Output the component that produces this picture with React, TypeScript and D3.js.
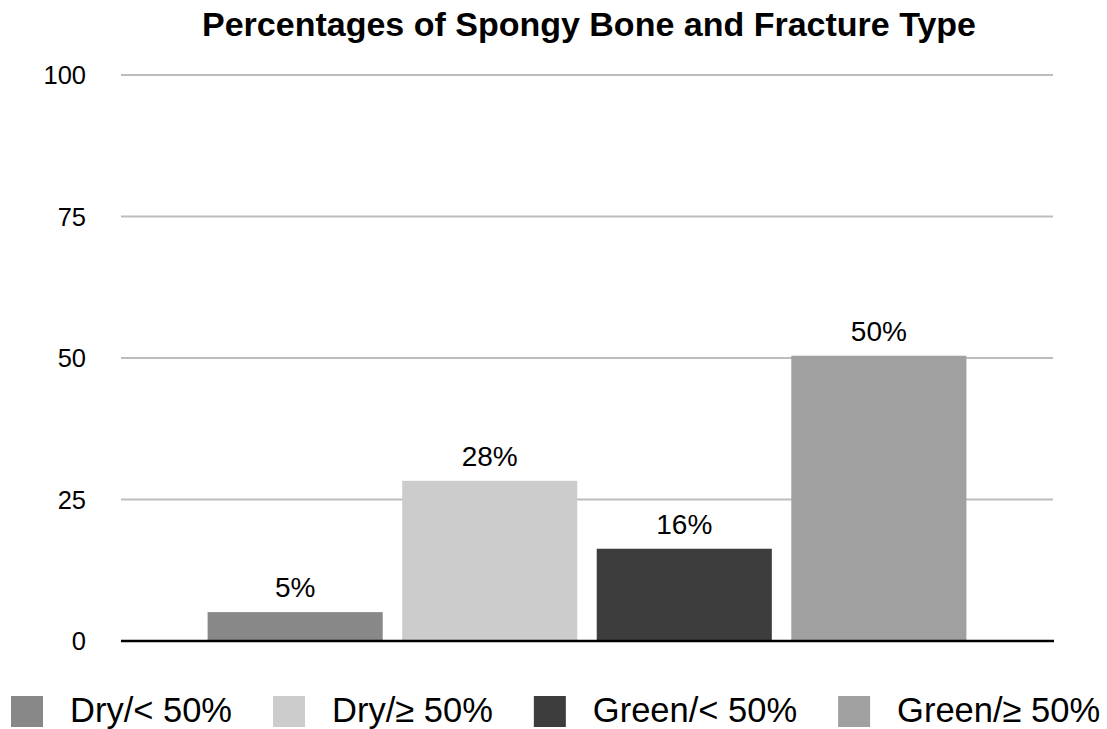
import React, { useEffect, useRef } from "react";
import * as d3 from "d3";

const categories = ["Dry/< 50%", "Dry/≥ 50%", "Green/< 50%", "Green/≥ 50%"];
const values = [5.1, 28.3, 16.3, 50.4];
const colors = ["#878887", "#cbcccb", "#3c3d3c", "#9fa09f"];
const yTicks = [0, 25, 50, 75, 100];
const title = "Percentages of Spongy Bone and Fracture Type";

const W = 1107;
const H = 729;
const FONT = "'Liberation Sans', Arial, Helvetica, sans-serif";

export default function App() {
  const ref = useRef<SVGSVGElement>(null);

  useEffect(() => {
    const svg = d3.select(ref.current);
    svg.selectAll("*").remove();

    const left = 121;
    const right = 1053;
    const top = 75;
    const bottom = 641;

    const x = d3
      .scaleBand<string>()
      .domain(categories)
      .range([122, 1052])
      .paddingInner(0.1)
      .paddingOuter(0.44);
    const y = d3.scaleLinear().domain([0, 100]).range([bottom, top]);

    // title
    svg
      .append("text")
      .attr("x", 589)
      .attr("y", 36)
      .attr("text-anchor", "middle")
      .attr("font-family", FONT)
      .attr("font-weight", "bold")
      .attr("font-size", 34)
      .attr("fill", "#000")
      .text(title);

    // gridlines
    svg
      .append("g")
      .selectAll("line")
      .data(yTicks.filter((t) => t > 0))
      .join("line")
      .attr("x1", left)
      .attr("x2", right)
      .attr("y1", (d) => y(d))
      .attr("y2", (d) => y(d))
      .attr("stroke", "#bdbdbd")
      .attr("stroke-width", 2);

    // tick labels
    svg
      .append("g")
      .selectAll("text")
      .data(yTicks)
      .join("text")
      .attr("x", 86)
      .attr("y", (d) => y(d))
      .attr("dy", "0.36em")
      .attr("text-anchor", "end")
      .attr("font-family", FONT)
      .attr("font-size", 25.5)
      .attr("fill", "#000")
      .text((d) => String(d));

    // bars
    svg
      .append("g")
      .selectAll("rect")
      .data(values)
      .join("rect")
      .attr("x", (_, i) => x(categories[i])!)
      .attr("width", x.bandwidth())
      .attr("y", (d) => y(d))
      .attr("height", (d) => y(0) - y(d))
      .attr("fill", (_, i) => colors[i]);

    // value labels
    svg
      .append("g")
      .selectAll("text")
      .data(values)
      .join("text")
      .attr("x", (_, i) => x(categories[i])! + x.bandwidth() / 2)
      .attr("y", (d) => y(d) - 15)
      .attr("text-anchor", "middle")
      .attr("font-family", FONT)
      .attr("font-size", 28)
      .attr("fill", "#000")
      .text((d) => `${Math.round(d)}%`);

    // baseline
    svg
      .append("line")
      .attr("x1", left)
      .attr("x2", right + 1)
      .attr("y1", y(0))
      .attr("y2", y(0))
      .attr("stroke", "#000")
      .attr("stroke-width", 2.5);

    // legend
    const lg = svg.append("g");
    let cx = 11;
    categories.forEach((c, i) => {
      lg.append("rect")
        .attr("x", cx)
        .attr("y", 696)
        .attr("width", 32)
        .attr("height", 31)
        .attr("fill", colors[i]);
      const t = lg
        .append("text")
        .attr("x", cx + 59)
        .attr("y", 722)
        .attr("font-family", FONT)
        .attr("font-size", 34.5)
        .attr("fill", "#000")
        .text(c);
      const w = (t.node() as SVGTextElement).getComputedTextLength();
      cx = cx + 59 + w + 41;
    });
  }, []);

  return (
    <svg
      ref={ref}
      width={W}
      height={H}
      style={{ position: "absolute", left: 0, top: 0, background: "#fff" }}
    />
  );
}
